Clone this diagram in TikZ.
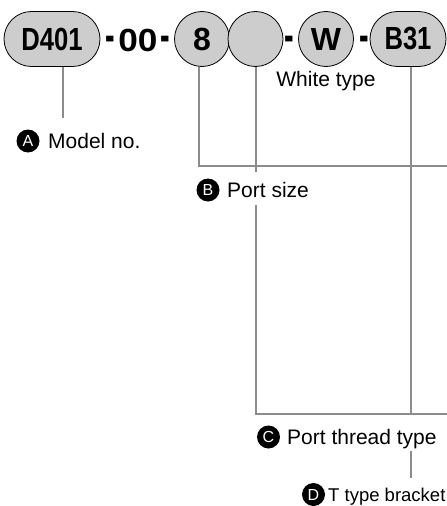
\documentclass[tikz,border=0pt]{standalone}
\usepackage{fontspec}
\setmainfont{Liberation Sans}
\newfontfamily\codefont{Liberation Sans Bold}
\newfontfamily\codefontnarrow[FakeStretch=0.8]{Liberation Sans Bold}
\newfontfamily\codefontwide[FakeStretch=1.1]{Liberation Sans Bold}
\newfontfamily\hyfont[FakeStretch=0.6]{Liberation Sans Bold}
\usetikzlibrary{shapes.misc}
\definecolor{shapegray}{RGB}{205,205,205}
\definecolor{linegray}{RGB}{140,140,140}
\begin{document}
\begin{tikzpicture}[x=1pt,y=-1pt,
  codeshape/.style={draw=black, line width=0.8pt, fill=shapegray, inner sep=0pt,
    font=\codefont\fontsize{32}{32}\selectfont},
  pill/.style={codeshape, rounded rectangle, minimum height=55pt,
    font=\codefontnarrow\fontsize{32}{32}\selectfont},
  disc/.style={codeshape, circle, minimum size=55pt},
  sepchar/.style={inner sep=0pt, anchor=base, font=\codefontwide\fontsize{32}{32}\selectfont},
  hyph/.style={inner sep=0pt, anchor=base, font=\hyfont\fontsize{48}{48}\selectfont},
  conn/.style={draw=linegray, line width=2pt},
  badge/.style={circle, fill=black, text=white, minimum size=23pt, inner sep=0pt,
    font=\fontsize{16}{16}\selectfont},
  lab/.style={anchor=base west, inner sep=0pt, font=\fontsize{21}{24}\selectfont}]
\useasboundingbox (0,0) rectangle (447,506);

% code row
\node[pill, minimum width=96pt] (d401) at (52,39) {D401};
\node[hyph] (h1) at (110,51) {-};
\node[sepchar] (zz) at (138,51) {00};
\node[hyph] (h2) at (165.5,51) {-};
\node[disc] (c8) at (202,39) {8};
\node[disc] (cx) at (255.5,39) {};
\node[hyph] (h3) at (289,51) {-};
\node[disc] (cw) at (326,39) {W};
\node[hyph] (h4) at (364.5,51) {-};
\node[pill, minimum width=76pt] (b31) at (408,39) {B31};

\node[anchor=base, inner sep=0pt, font=\fontsize{21}{24}\selectfont] (wt) at (326,86.5) {White type};

% labels
\node[badge] (ba) at (28,141) {A};
\node[lab] (la) at (48,148.5) {Model no.};
\node[badge] (bb) at (208,190) {B};
\node[lab] (lb) at (227,197) {Port size};
\node[badge] (bc) at (268.5,437) {C};
\node[lab] (lc) at (287,444) {Port thread type};
\node[badge] (bd) at (313.5,494.5) {D};
\node[lab, font=\fontsize{18.5}{22}\selectfont] (ld) at (328,501.5) {T type bracket};

% connector coordinates
\coordinate (aEnd) at (63,118);
\coordinate (bCorner) at (198.5,166);
\coordinate (bEnd) at (447,166);
\coordinate (cGapTop) at (256,172);
\coordinate (cGapBot) at (256,205);
\coordinate (cCorner) at (256,414);
\coordinate (cEnd) at (447,414);
\coordinate (dMid) at (411,414);
\coordinate (dGapBot) at (411,451);
\coordinate (dEnd) at (411,478);

% connectors
\draw[conn] (d401.south -| aEnd) -- (aEnd);
\draw[conn] (c8.south -| bCorner) -- (bCorner) -- (bEnd);
\draw[conn] (cx.south -| cGapTop) -- (cGapTop);
\draw[conn] (cGapBot) -- (cCorner) -- (cEnd);
\draw[conn] (b31.south -| dMid) -- (dMid);
\draw[conn] (dGapBot) -- (dEnd);
\end{tikzpicture}
\end{document}
